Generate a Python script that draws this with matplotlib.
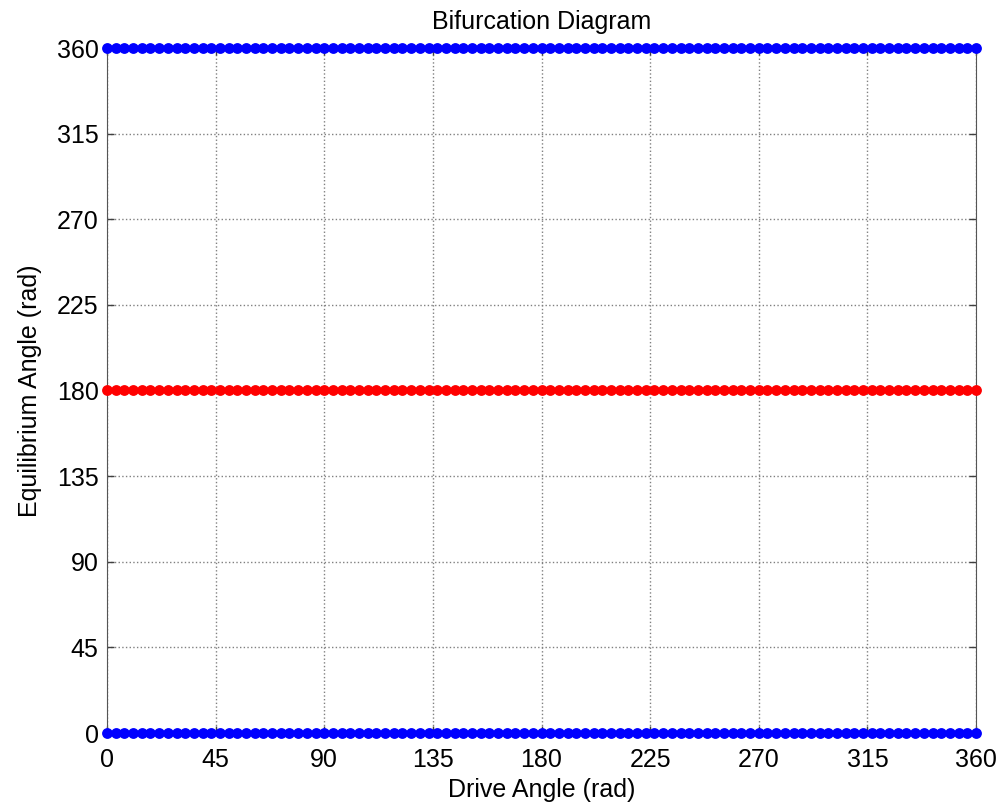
import numpy as np
import matplotlib
from matplotlib import pyplot as plt

matplotlib.use("Agg")

plt.rcParams["font.family"] = ["Liberation Sans", "DejaVu Sans"]

# sampled drive angles (101 samples, 0..360 deg)
drive_angle = np.linspace(0, 360, 101)

# equilibrium branches
stable_low = np.zeros(101)
stable_high = np.full(101, 360.0)
unstable_mid = np.full(101, 180.0)

ticks = [0, 45, 90, 135, 180, 225, 270, 315, 360]

fig = plt.figure(figsize=(10.01, 8.05), dpi=100)
ax = fig.add_axes([107 / 1001, 1 - 733 / 805, 869 / 1001, 685 / 805])

ax.plot(drive_angle, stable_low, "o", color="blue", markersize=7.8, markeredgewidth=0, clip_on=False, zorder=3)
ax.plot(drive_angle, stable_high, "o", color="blue", markersize=7.8, markeredgewidth=0, clip_on=False, zorder=3)
ax.plot(drive_angle, unstable_mid, "o", color="red", markersize=7.8, markeredgewidth=0, clip_on=False, zorder=3)

ax.set_xlim(0, 360)
ax.set_ylim(0, 360)
ax.set_xticks(ticks)
ax.set_yticks(ticks)
ax.tick_params(direction="in", length=5, width=1, labelsize=18, top=True, right=True,
               color="#404040", pad=6)
ax.tick_params(axis="x", pad=11)
ax.grid(True, linestyle=":", color="#808080", linewidth=1)
for s in ax.spines.values():
    s.set_color("#555555")

ax.set_title("Bifurcation Diagram", fontsize=18, pad=14)
ax.set_xlabel("Drive Angle (rad)", fontsize=18, labelpad=4)
ax.set_ylabel("Equilibrium Angle (rad)", fontsize=18, labelpad=11)

plt.savefig("out.png", dpi=100)
plt.close(fig)
